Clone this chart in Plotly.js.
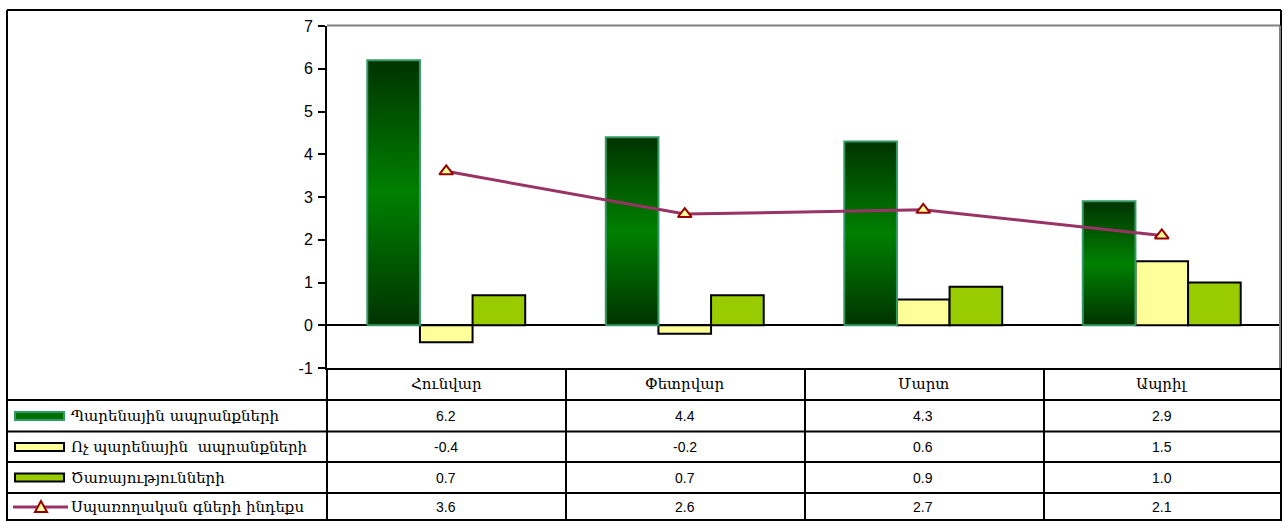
<!DOCTYPE html>
<html>
<head>
<meta charset="utf-8">
<script src="https://cdn.plot.ly/plotly-3.0.1.min.js"></script>
<style>html,body{margin:0;padding:0;background:#fff;}#chart{width:1282px;height:521px;}</style>
</head>
<body>
<div id="chart"></div>
<script>
// ---- data ----
const categories = ["Հունվար", "Փետրվար", "Մարտ", "Ապրիլ"];
const seriesNames = ["Պարենային ապրանքների", "Ոչ պարենային  ապրանքների", "Ծառայությունների", "Սպառողական գների ինդեքս"];
const food = [6.2, 4.4, 4.3, 2.9];
const nonFood = [-0.4, -0.2, 0.6, 1.5];
const services = [0.7, 0.7, 0.9, 1.0];
const cpi = [3.6, 2.6, 2.7, 2.1];
const yTickVals = [-1, 0, 1, 2, 3, 4, 5, 6, 7];
const yTickText = ["-1", "0", "1", "2", "3", "4", "5", "6", "7"];

// ---- layout constants ----
const W = 1282, H = 521;
const M = {l: 327, r: 1, t: 26, b: 153};
const PW = W - M.l - M.r, PH = H - M.t - M.b;
const px = x => (x - M.l) / PW;          // pixel x -> paper
const py = y => (H - M.b - y) / PH;      // pixel y -> paper
const bw = 0.2207;                        // bar width in category units
const xi = categories.map((c, i) => i);
const armFont = {family: 'DejaVu Serif, DejaVu Sans', size: 15, color: '#000'};

const traces = [];
// gradient green bars (one polygon per bar)
food.forEach((v, i) => {
  const x0 = i - 1.5 * bw, x1 = i - 0.5 * bw;
  traces.push({
    type: 'scatter', mode: 'lines', x: [x0, x0, x1, x1, x0], y: [0, v, v, 0, 0],
    fill: 'toself', line: {color: '#339966', width: 2},
    fillgradient: {type: 'vertical', colorscale: [[0, '#003300'], [0.5, '#008000'], [1, '#003300']]},
    hoverinfo: 'skip', showlegend: false
  });
});
traces.push({type: 'bar', x: xi, y: nonFood, width: bw, offset: -0.5 * bw,
  marker: {color: '#FFFF99', line: {color: '#000', width: 2}}, showlegend: false, hoverinfo: 'skip'});
traces.push({type: 'bar', x: xi, y: services, width: bw, offset: 0.5 * bw,
  marker: {color: '#99CC00', line: {color: '#000', width: 2}}, showlegend: false, hoverinfo: 'skip'});
traces.push({type: 'scatter', mode: 'lines+markers', x: xi, y: cpi,
  line: {color: '#993366', width: 3},
  marker: {symbol: 'triangle-up', size: 12, color: '#FFFF99', line: {color: '#990000', width: 2}},
  showlegend: false, hoverinfo: 'skip'});

// ---- table ----
const shapes = [];
const ann = [];
const blk = {color: '#000', width: 2};
function hline(y, x0, x1, line) { shapes.push({type: 'line', xref: 'paper', yref: 'paper', x0: px(x0), x1: px(x1), y0: py(y), y1: py(y), line: line || blk}); }
function vline(x, y0, y1, line) { shapes.push({type: 'line', xref: 'paper', yref: 'paper', x0: px(x), x1: px(x), y0: py(y0), y1: py(y1), line: line || blk}); }

// outer chart border
hline(10, 7, 1281);
vline(7, 10, 521);
vline(1281, 10, 521);
// plot-area border (grey)
hline(25.5, 327, 1280, {color: '#808080', width: 2});
vline(1280, 25.5, 368, {color: '#808080', width: 2});

const rowLines = [400, 431.5, 462, 493, 520];
rowLines.forEach(y => hline(y, 7, 1281));
const colLines = [327, 566, 805, 1044];
colLines.forEach(x => vline(x, 368, 520));

// category header
categories.forEach((c, i) => ann.push({xref: 'x', yref: 'paper', x: i, y: py(384), text: c, showarrow: false,
  font: armFont, xanchor: 'center', yanchor: 'middle'}));

const rowsVals = [food, nonFood, services, cpi];
const rowCenters = [416, 447, 477.5, 507];
rowsVals.forEach((arr, r) => {
  arr.forEach((v, i) => ann.push({xref: 'x', yref: 'paper', x: i, y: py(rowCenters[r]), text: v.toFixed(1), showarrow: false,
    font: {family: 'Arial', size: 14, color: '#000'}, xanchor: 'center', yanchor: 'middle'}));
  ann.push({xref: 'paper', yref: 'paper', x: px(69), y: py(rowCenters[r]), text: seriesNames[r], showarrow: false,
    font: armFont, xanchor: 'left', yanchor: 'middle'});
});

// legend keys
const keyFill = [['#007000', '#339966'], ['#FFFF99', '#000'], ['#99CC00', '#000']];
keyFill.forEach((k, r) => {
  const c = rowCenters[r];
  shapes.push({type: 'rect', xref: 'paper', yref: 'paper', x0: px(15), x1: px(64), y0: py(c - 4), y1: py(c + 4),
    fillcolor: k[0], line: {color: k[1], width: 2}});
});
{
  const c = rowCenters[3];
  shapes.push({type: 'line', xref: 'paper', yref: 'paper', x0: px(13), x1: px(68), y0: py(c), y1: py(c), line: {color: '#993366', width: 3}});
  const tx = [px(35), px(47), px(41)], ty = [py(c + 5), py(c + 5), py(c - 6)];
  shapes.push({type: 'path', xref: 'paper', yref: 'paper',
    path: `M ${tx[0]} ${ty[0]} L ${tx[1]} ${ty[1]} L ${tx[2]} ${ty[2]} Z`,
    fillcolor: '#FFFF99', line: {color: '#990000', width: 2}});
}

const layout = {
  width: W, height: H, margin: M,
  paper_bgcolor: '#fff', plot_bgcolor: '#fff',
  barmode: 'overlay', showlegend: false,
  xaxis: {range: [-0.5, 3.5], showticklabels: false, ticks: '', showgrid: false, zeroline: false,
    showline: true, linecolor: '#000', linewidth: 2, fixedrange: true},
  yaxis: {range: [-1, 7], tickmode: 'array', tickvals: yTickVals, ticktext: yTickText,
    ticks: 'outside', ticklen: 7, tickwidth: 2, tickcolor: '#000', ticklabelstandoff: 2,
    showline: true, linecolor: '#000', linewidth: 2, showgrid: false,
    zeroline: true, zerolinecolor: '#000', zerolinewidth: 2,
    tickfont: {family: 'Arial', size: 16, color: '#000'}, fixedrange: true},
  shapes: shapes, annotations: ann
};
Plotly.newPlot('chart', traces, layout, {staticPlot: true, displayModeBar: false});
</script>
</body>
</html>
